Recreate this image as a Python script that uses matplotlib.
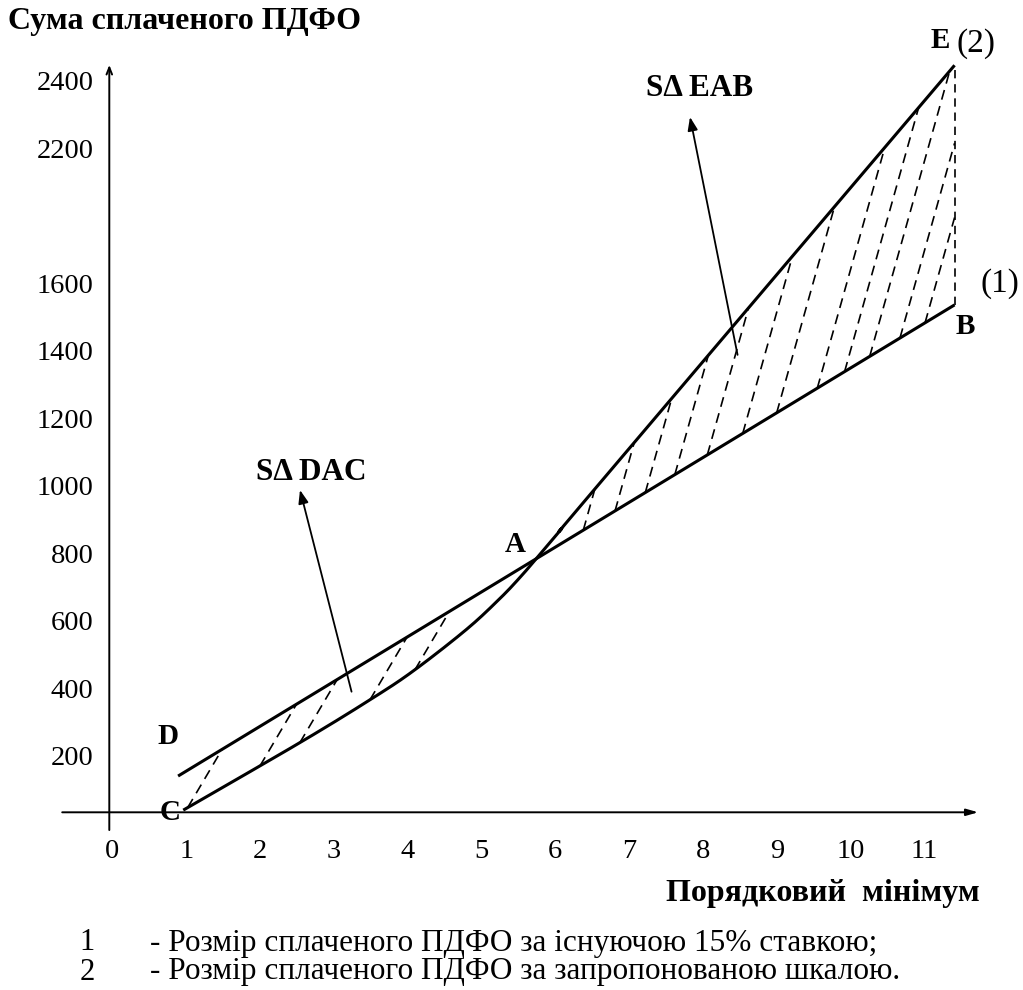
import numpy as np
import matplotlib.pyplot as plt

plt.rcParams['font.family'] = ['Liberation Serif', 'DejaVu Serif']

W, H = 1023, 990

# axis labels / ticks
x_ticks = list(range(12))
y_tick_pos = [200, 400, 600, 800, 1000, 1200, 1400, 1600, 2000, 2200]
y_tick_labels = ['200', '400', '600', '800', '1000', '1200', '1400', '1600', '2200', '2400']

# (1) existing 15% rate - straight line D-B
line1_x = [0.89, 11.41]
line1_y = [140, 1536]

# (2) proposed scale - curve C-A-E
curve_x = [0.96, 2.54, 3.49, 4.08, 4.80, 5.25, 5.52, 5.75, 6.06, 6.60, 11.41]
curve_y = [39, 239, 366, 452, 575, 666, 728, 786, 866, 1007, 2246]

# where the hatch strokes start (x on the lower boundary)
hatch_left_x = [1.02, 2.0, 2.54, 3.49, 4.10]
hatch_right_x = [6.38, 6.81, 7.22, 7.62, 8.06, 8.54, 9.00, 9.55, 9.92, 10.26, 10.67, 11.01]


def fp(x, y):
    # pixel position (from top-left) -> figure fraction
    return x / W, 1 - y / H


def smooth(xp, yp, n=20):
    # Catmull-Rom through the read points, only for drawing
    p = np.column_stack([xp, yp]).astype(float)
    p = np.vstack([2 * p[0] - p[1], p, 2 * p[-1] - p[-2]])
    out = []
    t = np.linspace(0, 1, n, endpoint=False)[:, None]
    for i in range(1, len(p) - 2):
        p0, p1, p2, p3 = p[i - 1], p[i], p[i + 1], p[i + 2]
        out.append(0.5 * (2 * p1 + (-p0 + p2) * t + (2 * p0 - 5 * p1 + 4 * p2 - p3) * t ** 2
                          + (-p0 + 3 * p1 - 3 * p2 + p3) * t ** 3))
    out.append(p[-2][None, :])
    out = np.vstack(out)
    return out[:, 0], out[:, 1]


fig = plt.figure(figsize=(W / 100, H / 100), dpi=100)
L, B, R, T = 109.3, 812.3, 1010, 15
ax = fig.add_axes([L / W, 1 - B / H, (R - L) / W, (B - T) / H])
ax.set_xlim((L - 112.4) / 73.81, (R - 112.4) / 73.81)
ax.set_ylim((823.3 - B) / 0.3375, (823.3 - T) / 0.3375)
for s in ax.spines.values():
    s.set_visible(False)
ax.set_xticks(x_ticks)
ax.set_yticks(y_tick_pos)
ax.set_yticklabels(y_tick_labels)
ax.tick_params(axis='x', length=0, pad=19.5, labelsize=20.5)
ax.tick_params(axis='y', length=0, pad=11.5, labelsize=20.5)

# axes with arrows
x0_ax, y0_ax = (L - 112.4) / 73.81, (823.3 - B) / 0.3375
ax.annotate('', xy=(11.73, y0_ax), xytext=(-0.68, y0_ax), annotation_clip=False,
            arrowprops=dict(arrowstyle='-|>,head_length=0.7,head_width=0.2', lw=1.4, color='black',
                            shrinkA=0, shrinkB=0))
ax.annotate('', xy=(x0_ax, 2247), xytext=(x0_ax, -20), annotation_clip=False,
            arrowprops=dict(arrowstyle='->,head_length=0.5,head_width=0.2', lw=1.4, color='black',
                            shrinkA=0, shrinkB=0))

ax.plot(line1_x, line1_y, color='black', lw=2.2, clip_on=False, solid_capstyle='butt')
cx, cy = smooth(curve_x, curve_y)
ax.plot(cx, cy, color='black', lw=2.2, clip_on=False, solid_capstyle='butt')


def line1(x):
    return np.interp(x, line1_x, line1_y)


def curve(x):
    return np.interp(x, cx, cy)


x_end = curve_x[-1]
dash = (0, (6, 4))

# hatching left triangle (DAC): from curve up to line 1
for xs0 in hatch_left_x:
    ys0 = curve(xs0)
    xx = np.linspace(xs0, xs0 + 1.5, 3000)
    yy = ys0 + 370 * (xx - xs0)
    i = np.argmax(yy >= line1(xx))
    ax.plot([xs0, xx[i]], [ys0, yy[i]], color='black', lw=1.2, ls=dash)

# hatching right triangle (EAB): from line 1 up to curve
for xs0 in hatch_right_x:
    ys0 = line1(xs0)
    xx = np.linspace(xs0, x_end, 3000)
    yy = ys0 + 780 * (xx - xs0)
    hit = yy >= curve(xx)
    i = np.argmax(hit) if hit.any() else len(xx) - 1
    ax.plot([xs0, xx[i]], [ys0, yy[i]], color='black', lw=1.2, ls=dash)

ax.plot([x_end, x_end], [line1(x_end), curve(x_end)], color='black', lw=1.2, ls=(0, (5, 3.5)))

# arrows to the area labels
ax.annotate('', xy=fp(300, 490), xycoords='figure fraction', xytext=(3.24, 390), textcoords='data',
            arrowprops=dict(arrowstyle='-|>,head_length=0.8,head_width=0.3', lw=1.3, color='black',
                            shrinkA=0, shrinkB=0))
ax.annotate('', xy=fp(690, 117), xycoords='figure fraction', xytext=(8.47, 1388), textcoords='data',
            arrowprops=dict(arrowstyle='-|>,head_length=0.8,head_width=0.3', lw=1.3, color='black',
                            shrinkA=0, shrinkB=0))

bold = dict(fontweight='bold', fontsize=21)
fig.text(*fp(8, 22), 'Сума сплаченого ПДФО', ha='left', va='center', fontweight='bold', fontsize=23)
fig.text(*fp(311, 472), 'SΔ DAC', ha='center', va='center', fontweight='bold', fontsize=22.5)
fig.text(*fp(700, 88), 'SΔ EAB', ha='center', va='center', fontweight='bold', fontsize=22.5)
fig.text(*fp(940, 40), 'E', ha='center', va='center', **bold)
fig.text(*fp(976, 44), '(2)', ha='center', va='center', fontsize=24)
fig.text(*fp(1000, 284), '(1)', ha='center', va='center', fontsize=24)
fig.text(*fp(965, 326), 'B', ha='center', va='center', **bold)
fig.text(*fp(515, 545), 'A', ha='center', va='center', **bold)
fig.text(*fp(168, 737), 'D', ha='center', va='center', **bold)
fig.text(*fp(170, 812), 'C', ha='center', va='center', **bold)
fig.text(*fp(980, 893), 'Порядковий  мінімум', ha='right', va='center', fontweight='bold', fontsize=23)
fig.text(*fp(87, 943), '1', ha='center', va='center', fontsize=22)
fig.text(*fp(150, 943), '- Розмір сплаченого ПДФО за існуючою 15% ставкою;', ha='left', va='center',
         fontsize=22.5)
fig.text(*fp(87, 972), '2', ha='center', va='center', fontsize=22)
fig.text(*fp(150, 972), '- Розмір сплаченого ПДФО за запропонованою шкалою.', ha='left', va='center',
         fontsize=22.5)

fig.savefig('out.png', dpi=100)
